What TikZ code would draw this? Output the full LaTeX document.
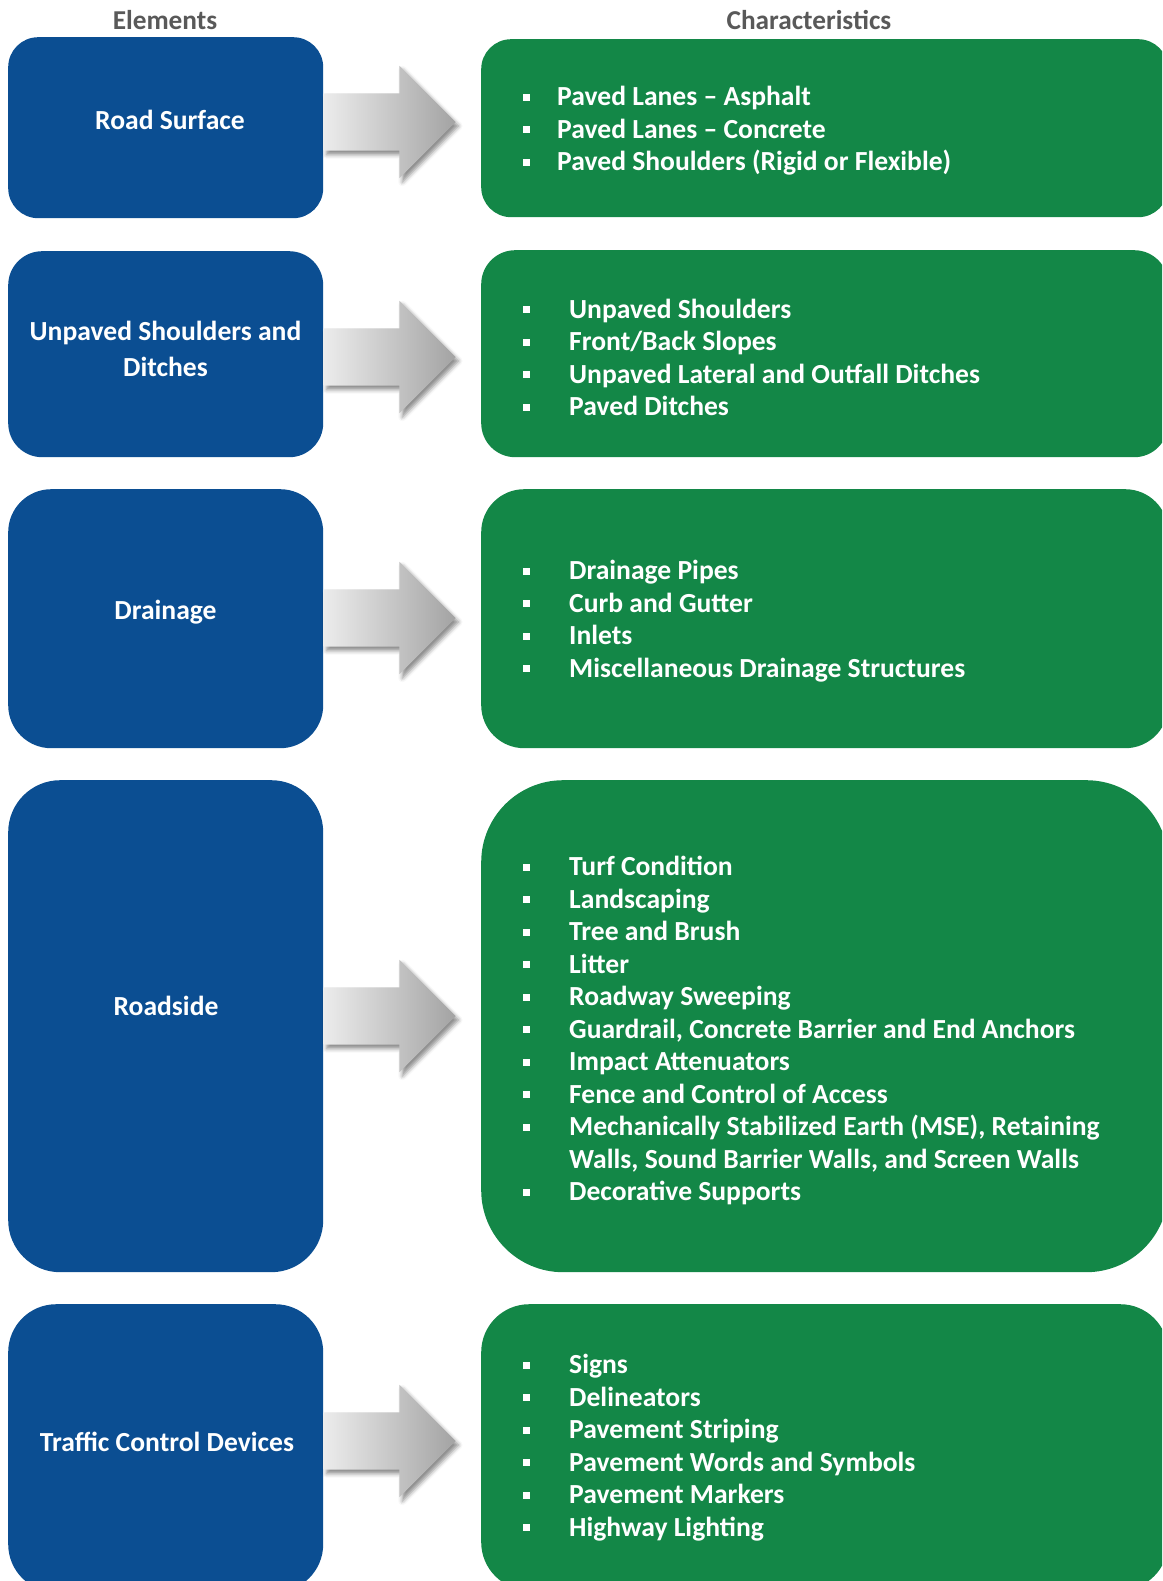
\documentclass[tikz,border=0pt]{standalone}
\usepackage{fontspec}
\setmainfont{Carlito}
\usetikzlibrary{shapes.arrows,shadows.blur}
\definecolor{elemblue}{RGB}{11,78,146}
\definecolor{chargreen}{RGB}{19,135,71}
\definecolor{headgray}{RGB}{89,89,89}
\newcommand{\sqbul}[1]{\makebox[#1][l]{\raisebox{5pt}{\rule{7pt}{7pt}}}}

\begin{document}
\begin{tikzpicture}[x=1pt,y=-1pt,
	elembox/.style={fill=elemblue, minimum width=315pt, anchor=north west, inner sep=0pt},
	charbox/.style={fill=chargreen, minimum width=687pt, anchor=north west, inner sep=0pt},
	elemtext/.style={text=white, font=\bfseries\fontsize{27.6}{36.5}\selectfont, align=center, anchor=base, inner sep=0pt},
	listtext/.style={text=white, font=\bfseries\fontsize{27.6}{32.5}\selectfont, align=left, anchor=base west, inner sep=0pt},
	header/.style={text=headgray, font=\bfseries\fontsize{27.3}{32}\selectfont, anchor=base, inner sep=0pt},
	flowarrow/.style={single arrow, anchor=tail, minimum height=132pt,
		single arrow head extend=27.5pt, single arrow head indent=0pt, inner xsep=0pt, inner ysep=28.5pt,
		left color=gray!15, right color=gray!72,
		blur shadow={shadow xshift=3pt, shadow yshift=-4pt, shadow blur radius=4pt, shadow opacity=45}}]
	\useasboundingbox (0,0) rectangle (1162,1581);
	\clip (0,0) rectangle (1162,1581);
	% column headers
	\node[header] (hE) at (165,29.3) {Elements};
	\node[header] (hC) at (809,29.3) {Characteristics};
	% boxes
	\foreach \Y/\H/\R [count=\Z] in {37/181/30, 251/206/34, 489/259/43, 780/492/52, 1304/288/48}
	{\node[elembox, minimum height=\H pt, rounded corners=\R pt] (e\Z) at (8,\Y) {};}
	\foreach \Y/\H/\R [count=\Z] in {39/178/30, 250/207/34, 489/259/43, 780/492/82, 1304/286/48}
	{\node[charbox, minimum height=\H pt, rounded corners=\R pt] (c\Z) at (481,\Y) {};}
	% arrows
	\foreach \Y [count=\Z] in {122, 357, 618, 1016, 1441}
	{\node[flowarrow] (a\Z) at (e\Z.east |- 0,\Y) {};}
	% element labels (base = last line)
	\node[elemtext] (t1) at (170,129.3) {Road Surface};
	\node[elemtext] (t2) at (165.5,376.7) {Unpaved Shoulders and\\Ditches};
	\node[elemtext] (t3) at (165.5,619.5) {Drainage};
	\node[elemtext] (t4) at (166,1015) {Roadside};
	\node[elemtext] (t5) at (167,1451) {Traffic Control Devices};
	% characteristics (base = last line)
	\node[listtext] (l1) at (522.5,171) {\sqbul{34.5pt}Paved Lanes – Asphalt\\
		\sqbul{34.5pt}Paved Lanes – Concrete\\
		\sqbul{34.5pt}Paved Shoulders (Rigid or Flexible)};
	\node[listtext] (l2) at (522.5,415.5) {\sqbul{46.5pt}Unpaved Shoulders\\
		\sqbul{46.5pt}Front/Back Slopes\\
		\sqbul{46.5pt}Unpaved Lateral and Outfall Ditches\\
		\sqbul{46.5pt}Paved Ditches};
	\node[listtext] (l3) at (522.5,677) {\sqbul{46.5pt}Drainage Pipes\\
		\sqbul{46.5pt}Curb and Gutter\\
		\sqbul{46.5pt}Inlets\\
		\sqbul{46.5pt}Miscellaneous Drainage Structures};
	\node[listtext] (l4) at (522.5,1200.5) {\sqbul{46.5pt}Turf Condition\\
		\sqbul{46.5pt}Landscaping\\
		\sqbul{46.5pt}Tree and Brush\\
		\sqbul{46.5pt}Litter\\
		\sqbul{46.5pt}Roadway Sweeping\\
		\sqbul{46.5pt}Guardrail, Concrete Barrier and End Anchors\\
		\sqbul{46.5pt}Impact Attenuators\\
		\sqbul{46.5pt}Fence and Control of Access\\
		\sqbul{46.5pt}Mechanically Stabilized Earth (MSE), Retaining\\
		\hspace*{46.5pt}Walls, Sound Barrier Walls, and Screen Walls\\
		\sqbul{46.5pt}Decorative Supports};
	\node[listtext] (l5) at (522.5,1536) {\sqbul{46.5pt}Signs\\
		\sqbul{46.5pt}Delineators\\
		\sqbul{46.5pt}Pavement Striping\\
		\sqbul{46.5pt}Pavement Words and Symbols\\
		\sqbul{46.5pt}Pavement Markers\\
		\sqbul{46.5pt}Highway Lighting};
\end{tikzpicture}
\end{document}
